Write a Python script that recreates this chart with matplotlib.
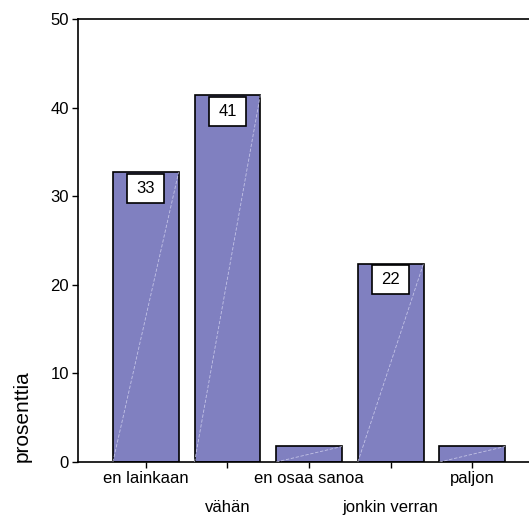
import matplotlib
matplotlib.use("Agg")
import matplotlib.pyplot as plt
from matplotlib.patches import Rectangle

plt.rcParams['font.family'] = ['Liberation Sans', 'DejaVu Sans']

categories = ["en lainkaan", "vähän", "en osaa sanoa", "jonkin verran", "paljon"]
percent = [32.7, 41.4, 1.75, 22.4, 1.75]
labelled = [True, True, False, True, False]
yticks = [0, 10, 20, 30, 40, 50]

bar_color = "#8080c0"
width = 0.805

fig = plt.figure(figsize=(5.29, 5.17), dpi=100)
ax = fig.add_axes([78 / 529, 55 / 517, 1 - 78 / 529, (462 - 19) / 517])

x = list(range(len(categories)))
ax.bar(x, percent, width=width, color=bar_color, edgecolor="black",
       linewidth=1.2, zorder=2)

# faint diagonal sheen across each bar
for xi, v in zip(x, percent):
    ax.plot([xi - width / 2, xi + width / 2], [0, v], color="#d4d4f0",
            lw=0.6, ls=(0, (4, 2)), alpha=0.8, zorder=4)

# value boxes at the top of the tall bars
box_w, box_h = 0.45, 3.3
for xi, v, show in zip(x, percent, labelled):
    if not show:
        continue
    top = v - 0.15
    ax.add_patch(Rectangle((xi - box_w / 2, top - box_h), box_w, box_h,
                           facecolor="white", edgecolor="black", lw=1.2,
                           zorder=3))
    ax.text(xi, top - box_h / 2, f"{v:.0f}", ha="center", va="center",
            fontsize=12, zorder=5)

ax.set_xlim(-0.83, 4.694)
ax.set_ylim(0, 50)
ax.set_yticks(yticks)
ax.set_xticks(x)
ax.set_xticklabels(categories)

for side in ("left", "bottom", "top"):
    ax.spines[side].set_linewidth(1.2)
ax.spines["right"].set_visible(False)

ax.tick_params(axis="y", direction="out", length=4, width=1, pad=2.5,
               labelsize=12)
ax.tick_params(axis="x", direction="out", length=4, width=1, pad=2.5,
               labelsize=12)
for i, tick in enumerate(ax.xaxis.get_major_ticks()):
    if i % 2 == 1:
        tick.set_pad(23.5)

fig.text(22 / 529, 55 / 517, "prosenttia", rotation=90, ha="center",
         va="bottom", fontsize=15)

fig.savefig("out.png", dpi=100)
